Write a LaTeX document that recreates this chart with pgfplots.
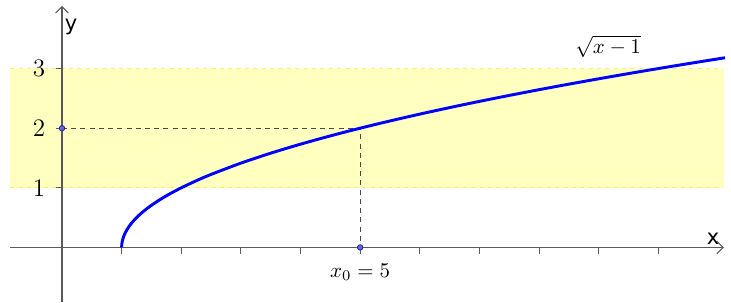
\documentclass[border=0pt]{standalone}
\usepackage{pgfplots}
\pgfplotsset{compat=1.18}
\usepackage{fontspec}
\newfontfamily\labfont{DejaVu Sans}
\usetikzlibrary{arrows.meta}
\definecolor{bandfill}{RGB}{255,255,192}
\definecolor{bandline}{RGB}{250,240,110}
\definecolor{axgray}{RGB}{90,90,90}
\definecolor{dotfill}{RGB}{100,100,235}
\definecolor{dotdraw}{RGB}{40,40,140}
\begin{document}
\begin{tikzpicture}
\begin{axis}[
  x=1cm, y=1cm,
  set layers,
  clip=false,
  axis lines=middle,
  axis line style={draw=axgray, line width=0.5pt, -{Straight Barb[length=3pt,width=6pt]}},
  xmin=-0.87, xmax=11.1,
  ymin=-0.92, ymax=4.05,
  xtick={1,2,3,4,5,6,7,8,9,10},
  xticklabels={},
  ytick={1,2,3},
  yticklabels={1,2,3},
  tick style={draw=axgray, line width=0.4pt},
  major tick length=3pt,
  tick align=outside,
  yticklabel style={font=\large, xshift=-1.5pt},
]
% invisible frame to fix the picture size
\path[draw=none] (axis cs:-1.04,-0.92) rectangle (axis cs:11.22,4.15);
% yellow band
\addplot[on layer=axis background, draw=none, fill=bandfill] coordinates {(-0.87,1) (11.1,1) (11.1,3) (-0.87,3)} -- cycle;
\addplot[on layer=axis background, bandline, dashed, line width=0.5pt, dash pattern=on 2pt off 2pt] coordinates {(-0.87,1) (11.1,1)};
\addplot[on layer=axis background, bandline, dashed, line width=0.5pt, dash pattern=on 2pt off 2pt] coordinates {(-0.87,3) (11.1,3)};
% dashed guides
\addplot[axgray!80!black, line width=0.5pt, dash pattern=on 2.4pt off 2pt] coordinates {(0,2) (5,2) (5,0)};
% curve sqrt(x-1)
\addplot[blue, line width=1.4pt, smooth] coordinates {
(1,0) (1.0025,0.05) (1.01,0.1) (1.0225,0.15) (1.04,0.2) (1.09,0.3) (1.16,0.4) (1.25,0.5) (1.36,0.6) (1.49,0.7) (1.64,0.8) (1.81,0.9) (2,1)
(2.25,1.118) (2.5,1.2247) (3,1.4142) (3.5,1.5811) (4,1.7321) (4.5,1.8708) (5,2) (5.5,2.1213) (6,2.2361) (6.5,2.3452) (7,2.4495) (7.5,2.5495) (8,2.6458) (8.5,2.7386) (9,2.8284) (9.5,2.9155) (10,3) (10.5,3.0822) (11,3.1623) (11.12,3.1812)};
% points
\addplot[only marks, mark=*, mark size=1.3pt, mark options={fill=dotfill, draw=dotdraw, line width=0.4pt}] coordinates {(0,2) (5,0)};
% labels
\node at (axis cs:5,-0.42) {$x_0 = 5$};
\node at (axis cs:9.16,3.37) {$\sqrt{x-1}$};
\node[font=\labfont] at (axis cs:0.15,3.70) {y};
\node[font=\labfont] at (axis cs:10.92,0.14) {x};
\end{axis}
\end{tikzpicture}
\end{document}
